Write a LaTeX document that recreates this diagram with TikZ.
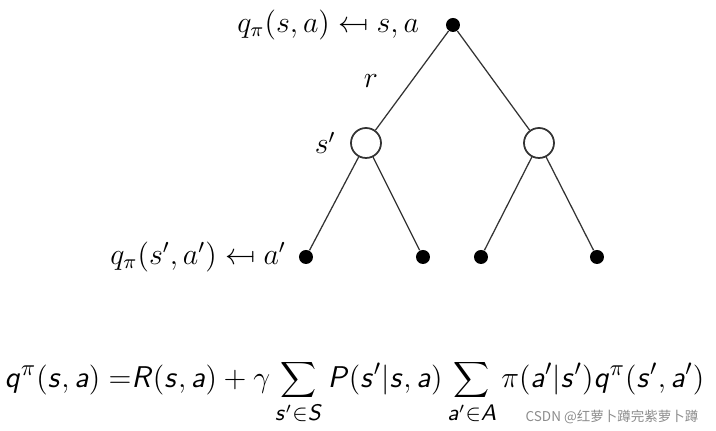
\documentclass[tikz,border=0pt]{standalone}
\usepackage{fontspec}
\usepackage{stmaryrd}
\usetikzlibrary{positioning}
\newfontfamily\cjkfont{Noto Sans CJK SC}
\DeclareMathVersion{sfmath}
\SetSymbolFont{operators}{sfmath}{OT1}{cmss}{m}{n}
\DeclareMathAlphabet{\mathsfsl}{OT1}{cmss}{m}{sl}
\begin{document}
\begin{tikzpicture}[
        x=0.4pt, y=-0.4pt,
        every node/.style={
            inner sep=0pt,
            font=\fontsize{12}{14}\selectfont
        },
        action/.style={
            circle,
            fill=black,
            minimum size=5.6pt
        },
        state/.style={
            circle,
            draw=black!80,
            fill=white,
            line width=0.7pt,
            minimum size=12pt
        },
        branch/.style={
            draw=black!80,
            line width=0.5pt
        }
    ]
    \useasboundingbox (0,0) rectangle (716,431);

    % backup tree for q
    \node[action] (root) at (453,25) {};
    \node[state] (s1) at (366,143) {};
    \node[state] (s2) at (539,143) {};
    \node[action] (a1) at (306,257) {};
    \node[action] (a2) at (423,257) {};
    \node[action] (a3) at (481,257) {};
    \node[action] (a4) at (597,257) {};

    \draw[branch] (root) -- (s1);
    \draw[branch] (root) -- (s2);
    \draw[branch] (s1) -- (a1);
    \draw[branch] (s1) -- (a2);
    \draw[branch] (s2) -- (a3);
    \draw[branch] (s2) -- (a4);

    % labels
    \node (toplabel) [left=10.4pt of root] {$q_\pi(s,a) \mapsfrom s,a$};
    \node (rlabel) at (371,81) {$r$};
    \node (slabel) [left=5.6pt of s1] {$s'$};
    \node (leaflabel) [left=4.8pt of a1] {$q_\pi(s',a') \mapsfrom a'$};

    % Bellman expectation equation
    \node[anchor=base] (eq) at (354.5,388) {{\fontsize{12.3}{15}\selectfont\mathversion{sfmath}%
        $\displaystyle\mathsfsl{q^\pi(s,a) \mathrel{=}\mkern-5mu R(s,a) + \gamma \sum_{s'\in S} P(s'|s,a) \sum_{a'\in A} \pi(a'|s') q^\pi(s',a')}$}};

    \node[text=black!45, font=\cjkfont\fontsize{5.4}{6}\selectfont] (mark) at (612,417) {CSDN @红萝卜蹲完紫萝卜蹲};

\end{tikzpicture}
\end{document}
